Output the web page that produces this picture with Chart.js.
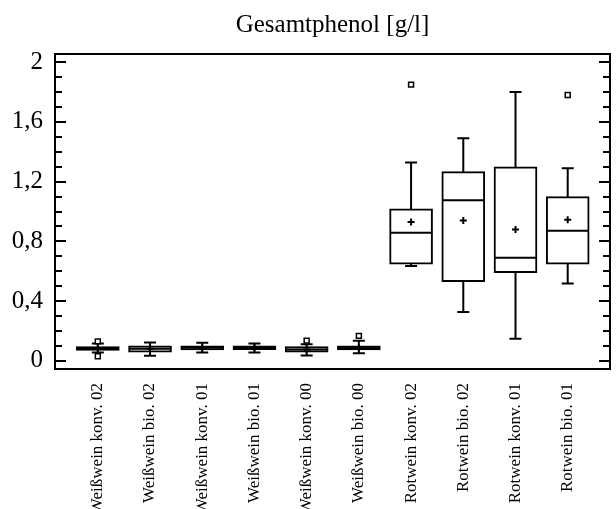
<!DOCTYPE html>
<html>
<head>
<meta charset="utf-8">
<script src="https://cdn.jsdelivr.net/npm/chart.js@4.4.1/dist/chart.umd.min.js"></script>
<style>
  body { margin: 0; background: #fff; }
  #wrap { width: 616px; height: 509px; }
</style>
</head>
<body>
<div id="wrap"><canvas id="chart" width="616" height="509"></canvas></div>
<script>
// Kategorien
const categories = [
  "Weißwein konv. 02", "Weißwein bio. 02", "Weißwein konv. 01", "Weißwein bio. 01",
  "Weißwein konv. 00", "Weißwein bio. 00", "Rotwein konv. 02", "Rotwein bio. 02",
  "Rotwein konv. 01", "Rotwein bio. 01"
];

// Boxplot-Werte (g/l)
const whiskerLow  = [0.055, 0.033, 0.055, 0.055, 0.035, 0.05, 0.635, 0.327, 0.147, 0.518];
const quartil1    = [0.07, 0.058, 0.072, 0.075, 0.058, 0.072, 0.647, 0.53, 0.59, 0.647];
const median      = [0.08, 0.08, 0.088, 0.085, 0.075, 0.085, 0.858, 1.075, 0.69, 0.871];
const quartil3    = [0.095, 0.1, 0.1, 0.1, 0.095, 0.1, 1.018, 1.267, 1.30, 1.10];
const whiskerHigh = [0.115, 0.122, 0.12, 0.115, 0.11, 0.135, 1.328, 1.49, 1.80, 1.289];
const mean        = [0.08, 0.08, 0.088, 0.09, 0.075, 0.088, 0.93, 0.94, 0.88, 0.945];
const outliers    = [[0.13, 0.03], [], [], [], [0.135], [0.167], [1.85], [], [], [1.78]];

// y-Achse
const yTicks = [0, 0.4, 0.8, 1.2, 1.6, 2];
const yMinorStep = 0.1;

const serif = "'Liberation Serif', 'Times New Roman', serif";

// Whisker, Kappen und Median zeichnen
const boxLines = {
  id: "boxLines",
  beforeDatasetsDraw(chart) {
    const { ctx, scales: { x, y } } = chart;
    ctx.save();
    ctx.strokeStyle = "#000";
    ctx.lineWidth = 2;
    categories.forEach((_, i) => {
      const cx = x.getPixelForValue(i + 1);
      const lo = y.getPixelForValue(whiskerLow[i]);
      const hi = y.getPixelForValue(whiskerHigh[i]);
      ctx.beginPath();
      ctx.moveTo(cx, lo); ctx.lineTo(cx, hi);
      ctx.moveTo(cx - 6, lo); ctx.lineTo(cx + 6, lo);
      ctx.moveTo(cx - 6, hi); ctx.lineTo(cx + 6, hi);
      ctx.stroke();
    });
    ctx.restore();
  },
  afterDatasetDraw(chart, args) {
    if (args.index !== 0) return;
    const { ctx, scales: { x, y } } = chart;
    ctx.save();
    ctx.strokeStyle = "#000";
    ctx.lineWidth = 2;
    categories.forEach((_, i) => {
      const cx = x.getPixelForValue(i + 1);
      const m = y.getPixelForValue(median[i]);
      ctx.beginPath();
      ctx.moveTo(cx - 21, m); ctx.lineTo(cx + 21, m);
      ctx.stroke();
    });
    ctx.restore();
  },
  afterDraw(chart) {
    const { ctx, chartArea: a, scales: { y } } = chart;
    ctx.save();
    ctx.strokeStyle = "#000";
    ctx.lineWidth = 2;
    ctx.strokeRect(a.left, a.top, a.right - a.left, a.bottom - a.top);
    // Teilstriche innen, links und rechts
    ctx.beginPath();
    for (let k = 0; k <= 20; k++) {
      const v = k * yMinorStep;
      const py = Math.round(y.getPixelForValue(v));
      const len = k % 4 === 0 ? 11 : 7;
      ctx.moveTo(a.left, py); ctx.lineTo(a.left + len, py);
      ctx.moveTo(a.right, py); ctx.lineTo(a.right - len, py);
    }
    ctx.stroke();
    ctx.restore();
  }
};

const outlierPoints = [];
outliers.forEach((list, i) => list.forEach(v => outlierPoints.push({ x: i + 1, y: v })));

new Chart(document.getElementById("chart"), {
  type: "bar",
  data: {
    datasets: [
      {
        type: "bar",
        data: categories.map((_, i) => ({ x: i + 1, y: [quartil1[i], quartil3[i]] })),
        backgroundColor: "#fff",
        borderColor: "#000",
        borderWidth: 2,
        borderSkipped: false,
        barThickness: 43,
        order: 3
      },
      {
        type: "scatter",
        data: categories.map((_, i) => ({ x: i + 1, y: mean[i] })),
        pointStyle: "cross",
        radius: 3.5,
        borderColor: "#000",
        borderWidth: 2,
        order: 1
      },
      {
        type: "scatter",
        data: outlierPoints,
        pointStyle: "rect",
        radius: 3.5,
        backgroundColor: "#fff",
        borderColor: "#000",
        borderWidth: 1.5,
        order: 2
      }
    ]
  },
  options: {
    responsive: false,
    animation: false,
    devicePixelRatio: 1,
    layout: { padding: { right: 3, left: 0 } },
    plugins: {
      legend: { display: false },
      tooltip: { enabled: false },
      title: {
        display: true,
        text: "Gesamtphenol [g/l]",
        fullSize: false,
        color: "#000",
        font: { family: serif, size: 25, weight: "normal" },
        padding: { top: 10, bottom: 14 }
      }
    },
    scales: {
      x: {
        type: "linear",
        offset: false,
        min: 0.18,
        max: 10.81,
        grid: { display: false, drawTicks: false, offset: false },
        border: { display: false },
        afterBuildTicks: (scale) => { scale.ticks = categories.map((_, i) => ({ value: i + 1 })); },
        afterFit: (scale) => { scale.height = 140; },
        ticks: {
          autoSkip: false,
          minRotation: 90,
          maxRotation: 90,
          padding: 14,
          color: "#000",
          font: { family: serif, size: 17 },
          callback: (v) => categories[Math.round(v) - 1]
        }
      },
      y: {
        min: -0.055,
        max: 2.055,
        grid: { display: false, drawTicks: false },
        border: { display: false },
        afterBuildTicks: (scale) => { scale.ticks = yTicks.map(v => ({ value: v })); },
        afterFit: (scale) => { scale.width = 55; },
        ticks: {
          padding: 12,
          color: "#000",
          font: { family: serif, size: 25 },
          callback: (v) => String(v).replace(".", ",")
        }
      }
    }
  },
  plugins: [boxLines]
});
</script>
</body>
</html>
